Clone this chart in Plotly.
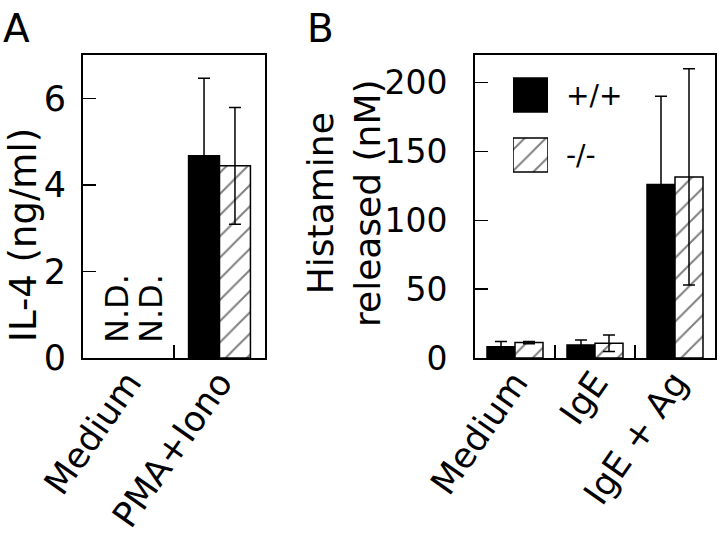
import plotly.graph_objects as go

# ---- data ----
catsA = ["Medium", "PMA+Iono"]
il4_wt = [None, 4.67]
il4_wt_err = [0, 1.79]
il4_ko = [None, 4.44]
il4_ko_err = [0, 1.35]
nd_text = "N.D."

catsB = ["Medium", "IgE", "IgE + Ag"]
his_wt = [8.2, 9.5, 126]
his_wt_err = [3.7, 3.6, 64]
his_ko = [11.2, 10.7, 131.5]
his_ko_err = [0.8, 6.0, 78.5]

series_names = ["+/+", "-/-"]
yticksA = [0, 2, 4, 6]
yticksB = [0, 50, 100, 150, 200]

W, H = 720, 536
FONT = "DejaVu Sans"

def px_x(p):
    return p / W

def px_y(p):
    return 1 - p / H

black_marker = dict(color="black", line=dict(color="black", width=1.5))
hatch_marker = dict(color="white",
                    pattern=dict(shape="/", size=15, solidity=0.13,
                                 fgcolor="black", bgcolor="white"),
                    line=dict(color="black", width=1.5))
err_style = dict(type="data", visible=True, color="black", thickness=1.5, width=6)

fig = go.Figure()

wA = 0.34
fig.add_trace(go.Bar(x=catsA, y=il4_wt, width=wA, offset=-wA, marker=black_marker,
                     error_y=dict(array=il4_wt_err, **err_style),
                     xaxis="x", yaxis="y", name=series_names[0]))
fig.add_trace(go.Bar(x=catsA, y=il4_ko, width=wA, offset=0, marker=hatch_marker,
                     error_y=dict(array=il4_ko_err, **err_style),
                     xaxis="x", yaxis="y", name=series_names[1]))

wB = 0.35
fig.add_trace(go.Bar(x=catsB, y=his_wt, width=wB, offset=-wB, marker=black_marker,
                     error_y=dict(array=his_wt_err, **err_style),
                     xaxis="x2", yaxis="y2", name=series_names[0]))
fig.add_trace(go.Bar(x=catsB, y=his_ko, width=wB, offset=0, marker=hatch_marker,
                     error_y=dict(array=his_ko_err, **err_style),
                     xaxis="x2", yaxis="y2", name=series_names[1]))

# legend swatches (own small axes)
lw = 0.567
fig.add_trace(go.Bar(x=[1], y=[series_names[0]], orientation="h", width=lw, offset=-lw / 2,
                     marker=black_marker, xaxis="x3", yaxis="y3"))
fig.add_trace(go.Bar(x=[1], y=[series_names[1]], orientation="h", width=lw, offset=-lw / 2,
                     marker=hatch_marker, xaxis="x3", yaxis="y3"))

def tf(size):
    return dict(family=FONT, size=size, color="black")

ax_common = dict(showline=True, linewidth=2, linecolor="black", mirror=True,
                 showgrid=False, zeroline=False, automargin=False)

fig.update_layout(
    width=W, height=H,
    margin=dict(l=0, r=0, t=0, b=0, autoexpand=False),
    paper_bgcolor="white", plot_bgcolor="white",
    showlegend=False, barmode="overlay",
    font=dict(family=FONT, color="black"),
    xaxis=dict(domain=[px_x(83), px_x(265)], anchor="y", type="category",
               categoryarray=catsA, range=[-0.5, 1.5], tickfont=tf(35),
               ticks="inside", tickson="boundaries", ticklen=13, tickwidth=1.5,
               tickcolor="black", tickangle=-55, ticklabelstandoff=-12, **ax_common),
    yaxis=dict(domain=[px_y(358), px_y(55)], anchor="x", range=[0, 7],
               tickvals=yticksA, ticks="inside", ticklen=13, tickwidth=1.5, tickfont=tf(35),
               tickcolor="black", ticklabelstandoff=8, **ax_common),
    xaxis2=dict(domain=[px_x(475), px_x(715)], anchor="y2", type="category",
                categoryarray=catsB, range=[-0.5, 2.5], tickfont=tf(35),
                ticks="inside", tickson="boundaries", ticklen=13, tickwidth=1.5,
                tickcolor="black", tickangle=-55, ticklabelstandoff=-12, **ax_common),
    yaxis2=dict(domain=[px_y(358), px_y(55)], anchor="x2", range=[0, 220],
                tickvals=yticksB, ticks="inside", ticklen=13, tickwidth=1.5, tickfont=tf(33),
                tickcolor="black", ticklabelstandoff=19, **ax_common),
    xaxis3=dict(domain=[px_x(513), px_x(548)], anchor="y3", range=[0, 1],
                visible=False, fixedrange=True, automargin=False),
    yaxis3=dict(domain=[px_y(185), px_y(65)], anchor="x3", type="category",
                categoryarray=series_names, range=[1.5, -0.5], side="right",
                showline=False, showgrid=False, zeroline=False, ticks="",
                ticklabelstandoff=17, automargin=False, tickfont=tf(28)),
)

ann = []
# N.D. labels
for shift in (-12, 22):
    ann.append(dict(x=catsA[0], y=0, xref="x", yref="y", text=nd_text, textangle=-90,
                    showarrow=False, xanchor="center", yanchor="bottom", xshift=shift,
                    yshift=13, font=tf(32)))
# axis titles
ann.append(dict(x=px_x(23), y=px_y(235), xref="paper", yref="paper", text="IL-4 (ng/ml)",
                textangle=-90, showarrow=False, xanchor="center", yanchor="middle",
                borderpad=0, font=tf(37)))
ann.append(dict(x=px_x(344), y=px_y(203), xref="paper", yref="paper",
                text="Histamine<br>released (nM)", textangle=-90, showarrow=False,
                xanchor="center", yanchor="middle", font=tf(36)))
# panel letters
ann.append(dict(x=px_x(1), y=px_y(28), xref="paper", yref="paper", text="A",
                showarrow=False, xanchor="left", yanchor="middle", font=tf(39)))
ann.append(dict(x=px_x(305), y=px_y(28), xref="paper", yref="paper", text="B",
                showarrow=False, xanchor="left", yanchor="middle", font=tf(39)))
fig.update_layout(annotations=ann)

fig.write_html("out.html",
               config={"displayModeBar": False, "staticPlot": True},
               post_script="document.body.style.margin='0px';"
                           "document.body.style.padding='0px';"
                           "document.body.style.overflow='hidden';")
